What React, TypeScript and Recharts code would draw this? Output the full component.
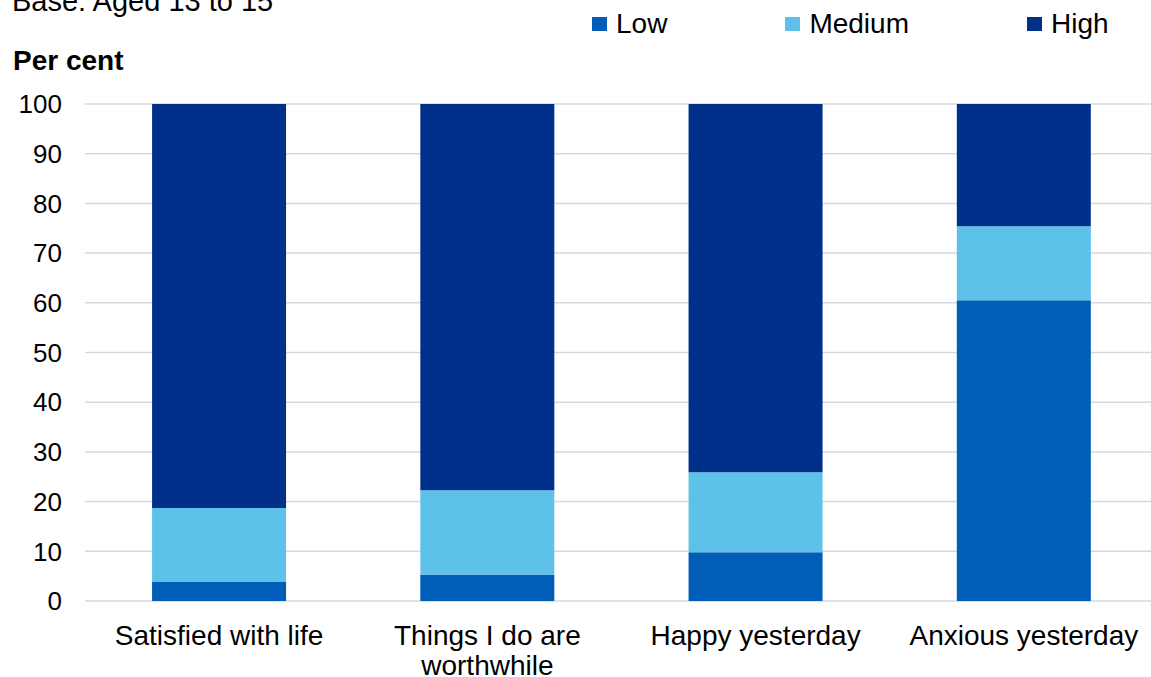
import { BarChart, Bar, XAxis, YAxis, CartesianGrid } from 'recharts'

const categories = ['Satisfied with life', 'Things I do are worthwhile', 'Happy yesterday', 'Anxious yesterday']
const low = [3.8, 5.3, 9.8, 60.5]
const medium = [14.9, 17.0, 16.1, 14.9]
const high = [81.3, 77.7, 74.1, 24.6]
const yTicks = [0, 10, 20, 30, 40, 50, 60, 70, 80, 90, 100]

const series = [
  { key: 'low', name: 'Low', color: '#005EB8' },
  { key: 'medium', name: 'Medium', color: '#5EC1EA' },
  { key: 'high', name: 'High', color: '#00308A' },
]

const data = categories.map((name, i) => ({ name, low: low[i], medium: medium[i], high: high[i] }))

const FONT = '"Liberation Sans", Arial, sans-serif'

// greedy word wrap, about 20 characters a line
function wrap(label: string, max = 20) {
  const lines: string[] = []
  let cur = ''
  for (const w of label.split(' ')) {
    const next = cur ? cur + ' ' + w : w
    if (next.length > max && cur) {
      lines.push(cur)
      cur = w
    } else {
      cur = next
    }
  }
  if (cur) lines.push(cur)
  return lines
}

function CategoryTick({ x, y, payload }: any) {
  const lines = wrap(String(payload.value))
  return (
    <text x={x} y={y + 44} textAnchor="middle" fill="#000" style={{ fontSize: 28, fontFamily: FONT }}>
      {lines.map((l, i) => (
        <tspan key={i} x={x} dy={i === 0 ? 0 : 30}>
          {l}
        </tspan>
      ))}
    </text>
  )
}

export default function App() {
  return (
    <div style={{ position: 'fixed', left: 0, top: 0, width: 1151, height: 677, overflow: 'hidden', background: '#fff', fontFamily: FONT }}>
      <div style={{ position: 'absolute', left: 12, top: -13, fontSize: 29, lineHeight: 1, color: '#000', whiteSpace: 'nowrap' }}>
        Base: Aged 13 to 15
      </div>
      <div style={{ position: 'absolute', left: 13, top: 47, fontSize: 28, lineHeight: 1, fontWeight: 'bold', color: '#000' }}>
        Per cent
      </div>
      <div style={{ position: 'absolute', left: 592, top: 10, display: 'flex', gap: 118, alignItems: 'center' }}>
        {series.map((s) => (
          <div key={s.key} style={{ display: 'flex', alignItems: 'center', gap: 9 }}>
            <span style={{ display: 'inline-block', width: 15, height: 14, background: s.color }} />
            <span style={{ fontSize: 28, lineHeight: '28px', color: '#000' }}>{s.name}</span>
          </div>
        ))}
      </div>
      <div style={{ position: 'absolute', left: 0, top: 0 }}>
        <BarChart
          width={1160}
          height={677}
          data={data}
          margin={{ top: 104, right: 2, left: 0, bottom: 0 }}
          barCategoryGap="25%"
        >
          <CartesianGrid vertical={false} stroke="#D5D9DF" strokeWidth={1.5} />
          <XAxis
            dataKey="name"
            height={76}
            axisLine={false}
            tickLine={false}
            tickSize={0}
            tickMargin={0}
            interval={0}
            tick={<CategoryTick />}
          />
          <YAxis
            width={85}
            domain={[0, 100]}
            ticks={yTicks}
            axisLine={false}
            tickLine={false}
            tickSize={0}
            tickMargin={23}
            tick={{ fontSize: 26, fill: '#000', fontFamily: FONT }}
          />
          {series.map((s) => (
            <Bar key={s.key} dataKey={s.key} name={s.name} stackId="a" fill={s.color} isAnimationActive={false} />
          ))}
        </BarChart>
      </div>
    </div>
  )
}
